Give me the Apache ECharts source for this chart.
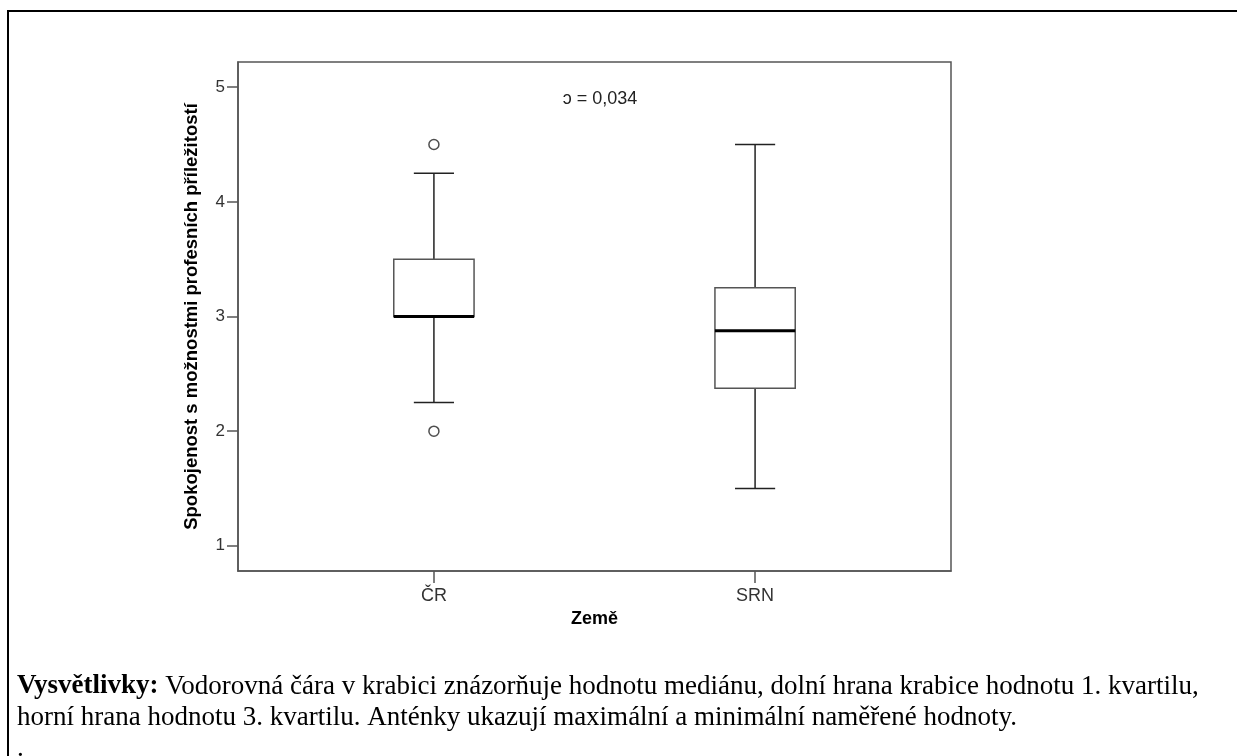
<!DOCTYPE html>
<html>
<head>
<meta charset="utf-8">
<title>Spokojenost s možnostmi profesních příležitostí</title>
<script src="https://cdn.jsdelivr.net/npm/echarts@6/dist/echarts.min.js"></script>
<style>
  html, body { margin: 0; padding: 0; background: #fff; }
  #chart { width: 1237px; height: 756px; }
</style>
</head>
<body>
<div id="chart"></div>
<script>
// kategorie (země) a jejich pozice na ose x
var zeme = ['ČR', 'SRN'];
var zemePos = [1, 2];

// krabice: [min. anténa, Q1, medián, Q3, max. anténa]
var krabice = [
  [2.25, 3.0, 3.0, 3.5, 4.25],
  [1.5, 2.375, 2.875, 3.25, 4.5]
];

// odlehlé hodnoty: [pozice, hodnota]
var odlehle = [
  [1, 4.5],
  [1, 2.0]
];

var yTicks = [1, 2, 3, 4, 5];
var pText = 'ɔ = 0,034';

var chart = echarts.init(document.getElementById('chart'));

// data pro custom series
var boxData = [];
for (var i = 0; i < zeme.length; i++) {
  boxData.push([zemePos[i]].concat(krabice[i]));
}

function renderBox(params, api) {
  var x = api.value(0);
  var lo = api.coord([x, api.value(1)]);
  var q1 = api.coord([x, api.value(2)]);
  var med = api.coord([x, api.value(3)]);
  var q3 = api.coord([x, api.value(4)]);
  var hi = api.coord([x, api.value(5)]);
  var halfBox = api.size([0.25, 0])[0] / 2;
  var halfCap = halfBox / 2;
  var cx = lo[0];
  var whisk = { stroke: '#222', lineWidth: 1.5 };
  return {
    type: 'group',
    children: [
      { type: 'line', shape: { x1: cx, y1: hi[1], x2: cx, y2: q3[1] }, style: whisk },
      { type: 'line', shape: { x1: cx, y1: q1[1], x2: cx, y2: lo[1] }, style: whisk },
      { type: 'line', shape: { x1: cx - halfCap, y1: hi[1], x2: cx + halfCap, y2: hi[1] }, style: whisk },
      { type: 'line', shape: { x1: cx - halfCap, y1: lo[1], x2: cx + halfCap, y2: lo[1] }, style: whisk },
      {
        type: 'rect',
        shape: { x: cx - halfBox, y: q3[1], width: halfBox * 2, height: q1[1] - q3[1] },
        style: { fill: '#fff', stroke: '#555', lineWidth: 1.5 }
      },
      { type: 'line', shape: { x1: cx - halfBox, y1: med[1], x2: cx + halfBox, y2: med[1] }, style: { stroke: '#000', lineWidth: 3 } }
    ]
  };
}

var option = {
  backgroundColor: '#fff',
  animation: false,
  grid: {
    left: 238, top: 62, width: 713, height: 509,
    show: true, borderColor: '#555', borderWidth: 1.5, backgroundColor: '#fff'
  },
  xAxis: {
    type: 'value',
    min: 0.39, max: 2.61,
    name: 'Země',
    nameLocation: 'middle',
    nameGap: 33,
    nameTextStyle: { fontFamily: 'Liberation Sans', fontWeight: 'bold', fontSize: 18, color: '#000' },
    splitLine: { show: false },
    axisLine: { show: true, lineStyle: { color: '#555', width: 1.5 } },
    axisTick: { show: true, length: 12, inside: false, customValues: zemePos, lineStyle: { color: '#555', width: 1.5 } },
    axisLabel: {
      customValues: zemePos,
      margin: 16,
      fontFamily: 'Liberation Sans', fontSize: 18, color: '#333',
      formatter: function (v) { return zeme[Math.round(v) - 1]; }
    }
  },
  yAxis: {
    type: 'value',
    min: 0.78, max: 5.22,
    name: 'Spokojenost s možnostmi profesních příležitostí',
    nameLocation: 'middle',
    nameRotate: 90,
    nameGap: 37,
    nameTextStyle: { fontFamily: 'Liberation Sans', fontWeight: 'bold', fontSize: 18.5, color: '#000' },
    splitLine: { show: false },
    axisLine: { show: true, lineStyle: { color: '#555', width: 1.5 } },
    axisTick: { show: true, length: 11, customValues: yTicks, lineStyle: { color: '#555', width: 1.5 } },
    axisLabel: {
      customValues: yTicks,
      margin: 13,
      fontFamily: 'Liberation Sans', fontSize: 17, color: '#333'
    }
  },
  series: [
    {
      type: 'custom',
      renderItem: renderBox,
      data: boxData,
      encode: { x: 0, y: [1, 2, 3, 4, 5] },
      z: 2
    },
    {
      type: 'scatter',
      data: odlehle,
      symbol: 'circle',
      symbolSize: 10,
      itemStyle: { color: '#fff', borderColor: '#222', borderWidth: 1.5 },
      z: 3
    }
  ],
  graphic: [
    {
      // rámeček přesahuje obrázek vpravo a dole
      type: 'rect',
      shape: { x: 8, y: 11, width: 1300, height: 800 },
      style: { fill: 'none', stroke: '#000', lineWidth: 2 },
      silent: true, z: -1
    },
    {
      type: 'text',
      x: 600, y: 99,
      style: {
        text: pText, fill: '#222',
        font: '18px "Liberation Sans"',
        align: 'center', verticalAlign: 'middle'
      }
    },
    {
      type: 'text',
      left: 17, top: 671,
      style: {
        text: '{b|Vysvětlivky:} Vodorovná čára v krabici znázorňuje hodnotu mediánu, dolní hrana krabice hodnotu 1. kvartilu,\nhorní hrana hodnotu 3. kvartilu. Anténky ukazují maximální a minimální naměřené hodnoty.\n.',
        fill: '#000',
        font: '27px "Liberation Serif"',
        lineHeight: 31,
        rich: {
          b: { fontFamily: 'Liberation Serif', fontWeight: 'bold', fontSize: 27, lineHeight: 31, fill: '#000' }
        }
      }
    }
  ]
};

chart.setOption(option);
</script>
</body>
</html>
